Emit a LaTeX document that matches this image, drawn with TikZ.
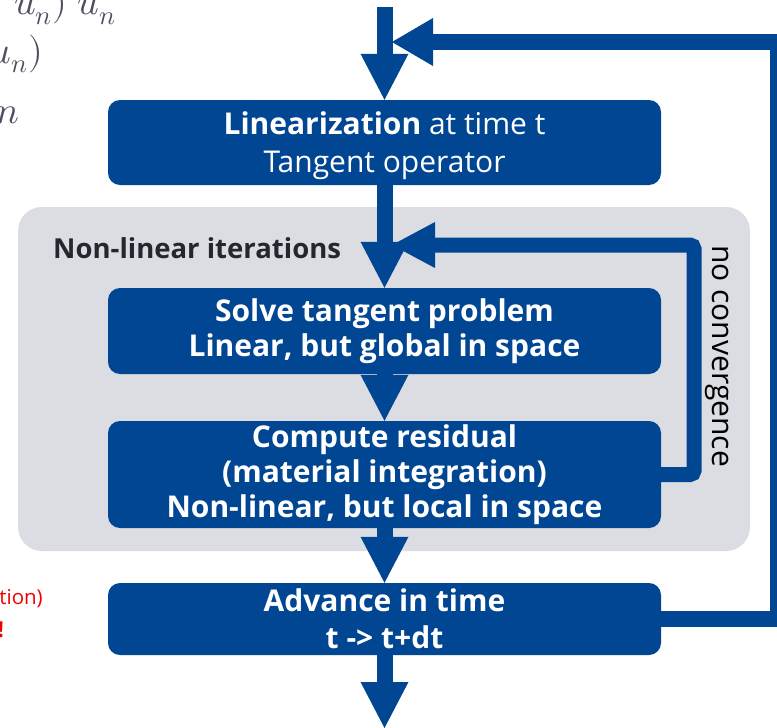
\documentclass[tikz,border=0pt]{standalone}
\usepackage{fontspec}
\usepackage{unicode-math}
\setmainfont{Open Sans}
\setmathfont{Latin Modern Math}
\usetikzlibrary{arrows.meta}
\definecolor{dblue}{RGB}{0,70,147}
\definecolor{lgray}{RGB}{220,221,226}
\definecolor{dtext}{RGB}{38,38,46}
\definecolor{mathgray}{RGB}{78,78,98}
\definecolor{redtxt}{RGB}{240,0,0}
\begin{document}
\begin{tikzpicture}[x=1pt,y=-1pt,
  box/.style={draw=none, fill=dblue, rounded corners=12pt, minimum width=553pt,
    text=white, align=center, inner sep=0pt, font=\fontsize{30}{36}\selectfont},
  flow/.style={draw=dblue, line width=16pt,
    -{Triangle[width=48pt,length=46pt,line width=0pt]}},
  outerloop/.style={draw=dblue, line width=16pt,
    -{Triangle[width=48pt,length=41pt,line width=0pt]}},
  innerloop/.style={draw=dblue, line width=15pt, rounded corners=4pt,
    -{Triangle[width=46pt,length=43pt,line width=0pt]}},
  mathfrag/.style={text=mathgray, inner sep=0pt, font=\fontsize{38}{40}\selectfont},
  redfrag/.style={text=redtxt, inner sep=0pt, font=\fontsize{20.5}{24}\selectfont}
]
\useasboundingbox (0,0) rectangle (777,728);
\clip (0,0) rectangle (777,728);

% gray group
\node[fill=lgray, rounded corners=24pt, minimum width=732pt, minimum height=344pt,
  inner sep=0pt] (grp) at (384,379) {};
\node[anchor=base west, inner sep=0pt, text=dtext,
  font=\fontsize{27.5}{30}\selectfont\bfseries] (grplabel) at (53,258) {Non-linear iterations};

% boxes
\node[box, minimum height=85pt] (lin) at (384.5,142.5) {};
\node[align=center, inner sep=0pt, text=white, font=\fontsize{30}{38}\selectfont] (lintext) at (384.5,146)
  {\textbf{Linearization} at time t\\Tangent operator};
\node[box, minimum height=86pt, font=\fontsize{30}{35}\selectfont\bfseries] (solve) at (384.5,331)
  {Solve tangent problem\\Linear, but global in space};
\node[box, minimum height=107pt, font=\fontsize{30}{35}\selectfont\bfseries] (comp) at (384.5,474.5)
  {Compute residual\\(material integration)\\Non-linear, but local in space};
\node[box, minimum height=72pt, font=\fontsize{30}{37}\selectfont\bfseries] (adv) at (384.5,619)
  {Advance in time\\t -> t+dt};

% rotated label
\node[rotate=-90, inner sep=0pt, text=black, font=\fontsize{30}{32}\selectfont] (nc) at (717,356)
  {no convergence};

% coordinates
\coordinate (topin) at (384.5,7);
\coordinate (botout) at (384.5,728);
\coordinate (otop) at (778,42);
\coordinate (otip) at (392,42);
\coordinate (itop) at (694,245);
\coordinate (itip) at (392,245);

% main flow
\draw[flow] (topin) -- (lin.north);
\draw[flow] (lin.south) -- (solve.north);
\draw[flow] (solve.south) -- (comp.north);
\draw[flow] (comp.south) -- (adv.north);
\draw[flow] (adv.south) -- (botout);

% loops
\draw[outerloop] (adv.east) -| (otop) -- (otip);
\draw[innerloop] (comp.east) -| (itop) -- (itip);

% cut-off fragments at the left edge
\node[mathfrag, anchor=base east] (m1) at (116,15) {$u_n)\;u_n$};
\node[mathfrag, anchor=base east] (m2) at (43,63) {$u_n)$};
\node[mathfrag, anchor=base east] (m3) at (19,123) {$n$};
\node[redfrag, anchor=base east] (r1) at (43,604) {tion)};
\node[redfrag, anchor=base east, font=\fontsize{22}{24}\selectfont\bfseries] (r2) at (4,637) {!};
\end{tikzpicture}
\end{document}
